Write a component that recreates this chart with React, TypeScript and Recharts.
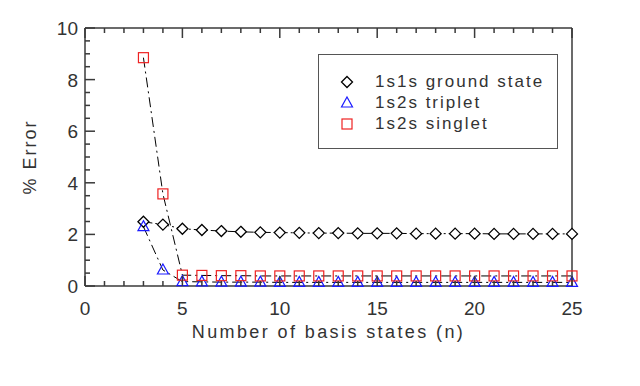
import { Label, Legend, Line, LineChart, XAxis, YAxis } from "recharts";

const nStates = [3, 4, 5, 6, 7, 8, 9, 10, 11, 12, 13, 14, 15, 16, 17, 18, 19, 20, 21, 22, 23, 24, 25];
const groundState = [2.49, 2.38, 2.22, 2.17, 2.13, 2.1, 2.08, 2.07, 2.06, 2.05, 2.05, 2.04, 2.04, 2.04, 2.03, 2.03, 2.03, 2.03, 2.02, 2.02, 2.02, 2.02, 2.02];
const triplet = [2.3, 0.62, 0.17, 0.16, 0.15, 0.15, 0.15, 0.14, 0.14, 0.14, 0.14, 0.14, 0.14, 0.14, 0.14, 0.14, 0.14, 0.14, 0.14, 0.14, 0.14, 0.14, 0.14];
const singlet = [8.85, 3.57, 0.42, 0.41, 0.4, 0.4, 0.39, 0.39, 0.39, 0.39, 0.39, 0.39, 0.39, 0.39, 0.39, 0.39, 0.39, 0.39, 0.39, 0.39, 0.39, 0.39, 0.39];
const xTicks = Array.from({ length: 26 }, (_, i) => i);
const yTicks = Array.from({ length: 21 }, (_, i) => i * 0.5);

const data = nStates.map((n, i) => ({
  n,
  ground: groundState[i],
  triplet: triplet[i],
  singlet: singlet[i],
}));

const FONT = "'Liberation Sans', Arial, sans-serif";
const TEXT = "#333";
const AXIS = "#3a3a3a";

function Diamond({ cx, cy }: any) {
  if (cx == null || cy == null) return null;
  return (
    <path
      d={`M${cx},${cy - 5.5}L${cx + 5.5},${cy}L${cx},${cy + 5.5}L${cx - 5.5},${cy}Z`}
      fill="#fff"
      stroke="#000"
      strokeWidth={1.3}
    />
  );
}

function Triangle({ cx, cy }: any) {
  if (cx == null || cy == null) return null;
  return (
    <path
      d={`M${cx},${cy - 6}L${cx + 5.5},${cy + 4}L${cx - 5.5},${cy + 4}Z`}
      fill="none"
      stroke="#1a1aff"
      strokeWidth={1.2}
    />
  );
}

function Square({ cx, cy }: any) {
  if (cx == null || cy == null) return null;
  return (
    <rect x={cx - 5} y={cy - 5} width={10} height={10} fill="none" stroke="#ee2222" strokeWidth={1.2} />
  );
}

// inward tick marks, labels only on the major ones
function BottomTick({ x, y, payload }: any) {
  const major = payload.value % 5 === 0;
  const len = major ? 10 : 5;
  return (
    <g>
      <rect x={x - 0.75} y={y - len} width={1.5} height={len} fill={AXIS} />
      {major && (
        <text x={x} y={y + 29} textAnchor="middle" fill={TEXT} fontSize={19} fontFamily={FONT}>
          {payload.value}
        </text>
      )}
    </g>
  );
}

function TopTick({ x, y, payload }: any) {
  const len = payload.value % 5 === 0 ? 10 : 5;
  return <rect x={x - 0.75} y={y} width={1.5} height={len} fill={AXIS} />;
}

function LeftTick({ x, y, payload }: any) {
  const major = payload.value % 2 === 0;
  const len = major ? 10 : 5;
  return (
    <g>
      <rect x={x} y={y - 0.75} width={len} height={1.5} fill={AXIS} />
      {major && (
        <text x={x - 7} y={y + 7} textAnchor="end" fill={TEXT} fontSize={19} fontFamily={FONT}>
          {payload.value}
        </text>
      )}
    </g>
  );
}

function RightTick({ x, y, payload }: any) {
  const len = payload.value % 2 === 0 ? 10 : 5;
  return <rect x={x - len} y={y - 0.75} width={len} height={1.5} fill={AXIS} />;
}

const legendItems = [
  { name: "1s1s ground state", Marker: Diamond },
  { name: "1s2s triplet", Marker: Triangle },
  { name: "1s2s singlet", Marker: Square },
];

function LegendBox() {
  return (
    <div
      style={{
        width: 240,
        height: 95,
        border: "1.5px solid #555",
        boxSizing: "border-box",
        paddingTop: 16,
        background: "#fff",
      }}
    >
      {legendItems.map(({ name, Marker }) => (
        <div key={name} style={{ display: "flex", alignItems: "center", height: 21 }}>
          <svg width={56} height={21}>
            <Marker cx={28} cy={11} />
          </svg>
          <span style={{ fontFamily: FONT, fontSize: 17, color: TEXT, letterSpacing: 2 }}>{name}</span>
        </div>
      ))}
    </div>
  );
}

export default function App() {
  return (
    <div style={{ position: "absolute", left: 0, top: 0, background: "#fff" }}>
      <LineChart width={640} height={386} data={data} margin={{ top: 27, right: 67, bottom: 99, left: 84 }}>
        <XAxis
          xAxisId="b"
          dataKey="n"
          type="number"
          domain={[0, 25]}
          ticks={xTicks}
          interval={0}
          height={1}
          tickSize={0}
          tickMargin={0}
          tickLine={false}
          tick={<BottomTick />}
          axisLine={{ stroke: AXIS, strokeWidth: 1.5 }}
        >
          <Label
            value="Number of basis states (n)"
            position="bottom"
            offset={38}
            style={{ fontFamily: FONT, fontSize: 18, fill: TEXT, letterSpacing: 2.4 }}
          />
        </XAxis>
        <XAxis
          xAxisId="t"
          orientation="top"
          dataKey="n"
          type="number"
          domain={[0, 25]}
          ticks={xTicks}
          interval={0}
          height={1}
          tickSize={0}
          tickMargin={0}
          tickLine={false}
          tick={<TopTick />}
          axisLine={{ stroke: AXIS, strokeWidth: 1.5 }}
        />
        <YAxis
          yAxisId="l"
          type="number"
          domain={[0, 10]}
          ticks={yTicks}
          interval={0}
          width={1}
          tickSize={0}
          tickMargin={0}
          tickLine={false}
          tick={<LeftTick />}
          axisLine={{ stroke: AXIS, strokeWidth: 1.5 }}
        >
          <Label
            content={({ viewBox }: any) => {
              const cx = viewBox.x - 54;
              const cy = viewBox.y + viewBox.height / 2;
              return (
                <text
                  x={cx}
                  y={cy}
                  transform={`rotate(-90 ${cx} ${cy})`}
                  textAnchor="middle"
                  dominantBaseline="central"
                  fill={TEXT}
                  fontSize={18}
                  fontFamily={FONT}
                  letterSpacing={2}
                >
                  % Error
                </text>
              );
            }}
          />
        </YAxis>
        <YAxis
          yAxisId="r"
          orientation="right"
          type="number"
          domain={[0, 10]}
          ticks={yTicks}
          interval={0}
          width={1}
          tickSize={0}
          tickMargin={0}
          tickLine={false}
          tick={<RightTick />}
          axisLine={{ stroke: AXIS, strokeWidth: 1.5 }}
        />
        <Legend
          layout="horizontal"
          verticalAlign="middle"
          align="center"
          content={<LegendBox />}
          wrapperStyle={{ position: "absolute", left: 318, top: 54, width: 240 }}
        />
        <Line xAxisId="b" yAxisId="l" dataKey="ground" stroke="#000" strokeWidth={1} strokeDasharray="9 3 2 3" dot={<Diamond />} isAnimationActive={false} />
        <Line xAxisId="b" yAxisId="l" dataKey="triplet" stroke="#000" strokeWidth={1} strokeDasharray="10 4 2 4" dot={<Triangle />} isAnimationActive={false} />
        <Line xAxisId="b" yAxisId="l" dataKey="singlet" stroke="#000" strokeWidth={1} strokeDasharray="10 4 2 4" dot={<Square />} isAnimationActive={false} />
      </LineChart>
    </div>
  );
}
